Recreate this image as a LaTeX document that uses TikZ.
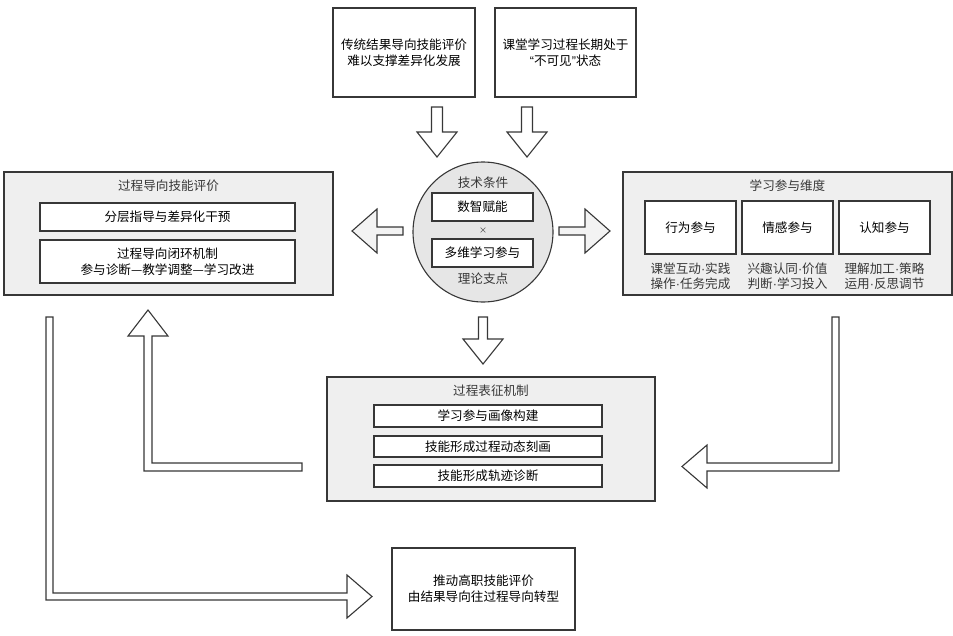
\documentclass[tikz,border=0pt]{standalone}
\usepackage{fontspec}
\setmainfont{Noto Sans CJK SC}
\newfontfamily\latinfont{Liberation Sans}
\newcommand{\mdot}{{\latinfont ·}}
\usetikzlibrary{calc}
\definecolor{line_dark}{RGB}{55, 55, 55}
\definecolor{panel_gray}{RGB}{239, 239, 239}
\definecolor{hub_gray}{RGB}{230, 230, 230}
\definecolor{arrow_gray}{RGB}{243, 243, 243}
\tikzstyle{panel}=[rectangle,draw=line_dark,fill=panel_gray,line width=1.1pt,
  inner sep=0pt]
\tikzstyle{item}=[rectangle,draw=line_dark,fill=white,line width=1.1pt,
  inner sep=0pt,align=center,font=\fontsize{12.6}{16}\selectfont]
\tikzstyle{caption}=[inner sep=0pt,align=center,text=line_dark,
  font=\fontsize{12.6}{16}\selectfont]
\tikzstyle{blockarrow}=[draw=line_dark,fill=white,line width=1.1pt,
  line join=miter]
% down block arrow: #1 tail, #2 shaft length, #3 shaft half width
\newcommand{\downblock}[3]{%
  \draw[blockarrow] ($(#1)+(-#3,0)$) -- ++(0,#2) -- ++({-(20-#3)},0)
    -- ++(20,25) -- ++(20,-25) -- ++({-(20-#3)},0) -- ++(0,-#2) -- cycle;}
% side block arrow: #1 tail, #2 direction (1 right, -1 left)
\newcommand{\sideblock}[2]{%
  \draw[blockarrow,fill=arrow_gray] ($(#1)+(0,-4)$) -- ++({(#2)*26},0)
    -- ++(0,-18) -- ++({(#2)*25},22) -- ++({-(#2)*25},22) -- ++(0,-18)
    -- ++({-(#2)*26},0) -- cycle;}
\begin{document}
\begin{tikzpicture}[x=1pt,y=-1pt]
    \useasboundingbox (0,0) rectangle (953,635);
    % problems
    \node [style=item,minimum width=142,minimum height=89] (prob1) at (404,52.5)
      {传统结果导向技能评价\\难以支撑差异化发展};
    \node [style=item,minimum width=141,minimum height=89] (prob2) at (565.5,52.5)
      {课堂学习过程长期处于\\{\latinfont “}不可见{\latinfont ”}状态};
    % hub
    \node [circle,draw=line_dark,fill=hub_gray,line width=1.1pt,
      minimum size=140] (hub) at (483,232) {};
    \node [style=caption] (hubtop) at (483,183) {技术条件};
    \node [style=item,minimum width=101,minimum height=28] (digital) at (482.5,207) {数智赋能};
    \node [style=caption,font=\fontsize{8}{10}\selectfont] (times) at (483,231) {×};
    \node [style=item,minimum width=101,minimum height=28] (engage) at (482.5,253) {多维学习参与};
    \node [style=caption] (hubbot) at (483,279) {理论支点};
    % left panel
    \node [style=panel,minimum width=329,minimum height=123] (evalp) at (168.5,233.5) {};
    \node [style=caption] (evaltitle) at (168.5,186) {过程导向技能评价};
    \node [style=item,minimum width=255,minimum height=28] (layer) at (167.5,217)
      {分层指导与差异化干预};
    \node [style=item,minimum width=255,minimum height=43] (loop) at (167.5,261.5)
      {过程导向闭环机制\\参与诊断—教学调整—学习改进};
    % right panel
    \node [style=panel,minimum width=329,minimum height=123] (dimp) at (787.5,233.5) {};
    \node [style=caption] (dimtitle) at (787.5,186) {学习参与维度};
    \node [style=item,minimum width=91,minimum height=53] (behav) at (690.5,227.5) {行为参与};
    \node [style=item,minimum width=91,minimum height=53] (emot) at (787.5,227.5) {情感参与};
    \node [style=item,minimum width=91,minimum height=53] (cogn) at (884.5,227.5) {认知参与};
    \node [style=caption,font=\fontsize{12.6}{15.5}\selectfont] (behavtxt) at (690.5,276)
      {课堂互动\mdot 实践\\操作\mdot 任务完成};
    \node [style=caption,font=\fontsize{12.6}{15.5}\selectfont] (emottxt) at (787.5,276)
      {兴趣认同\mdot 价值\\判断\mdot 学习投入};
    \node [style=caption,font=\fontsize{12.6}{15.5}\selectfont] (cogntxt) at (884.5,276)
      {理解加工\mdot 策略\\运用\mdot 反思调节};
    % middle panel
    \node [style=panel,minimum width=328,minimum height=124] (repp) at (491,439) {};
    \node [style=caption] (reptitle) at (491,391) {过程表征机制};
    \node [style=item,minimum width=228,minimum height=22] (portrait) at (488,416) {学习参与画像构建};
    \node [style=item,minimum width=228,minimum height=21] (dynamic) at (488,446.5) {技能形成过程动态刻画};
    \node [style=item,minimum width=228,minimum height=22] (trace) at (488,476) {技能形成轨迹诊断};
    % outcome
    \node [style=item,minimum width=183,minimum height=82] (goal) at (483.5,589)
      {推动高职技能评价\\由结果导向往过程导向转型};
    % arrows
    \coordinate (t1) at (437,107);
    \coordinate (t2) at (527,107);
    \coordinate (t3) at (483,317);
    \coordinate (tl) at (403,231);
    \coordinate (tr) at (559,231);
    \downblock{t1}{25}{5.5}
    \downblock{t2}{25}{5.5}
    \downblock{t3}{22}{4.5}
    \sideblock{tl}{-1}
    \sideblock{tr}{1}
    \draw[blockarrow] (302,463) -- (152,463) -- (152,336) -- (168,336) -- (148,310)
      -- (128,336) -- (144,336) -- (144,471) -- (302,471) -- cycle;
    \draw[blockarrow] (46,317) -- (53,317) -- (53,593) -- (347,593) -- (347,575)
      -- (372,596.5) -- (347,618) -- (347,600) -- (46,600) -- cycle;
    \draw[blockarrow] (839,317) -- (832,317) -- (832,463) -- (707,463) -- (707,445)
      -- (682,466.5) -- (707,488) -- (707,471) -- (839,471) -- cycle;
\end{tikzpicture}
\end{document}
